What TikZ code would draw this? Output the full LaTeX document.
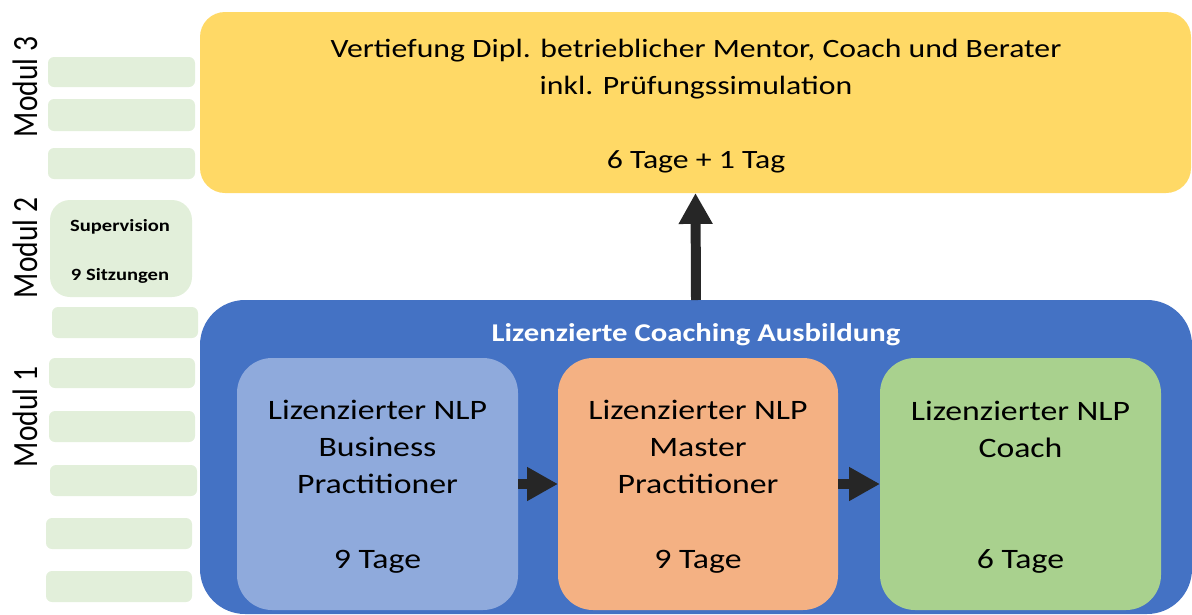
\documentclass[tikz,border=0pt]{standalone}
\usepackage{fontspec}
\setmainfont{Carlito}[FakeStretch=1.2]
\newfontfamily\modulfont{Carlito}
\usetikzlibrary{fit,arrows.meta}
\definecolor{gold}{HTML}{FFD966}
\definecolor{royal}{HTML}{4472C4}
\definecolor{sky}{HTML}{8FAADC}
\definecolor{peach}{HTML}{F4B183}
\definecolor{leaf}{HTML}{A9D18E}
\definecolor{mint}{HTML}{E2EFDA}
\definecolor{ink}{HTML}{262626}
\tikzset{
  box/.style={rectangle, inner sep=0pt, outer sep=0pt, draw=none},
  slot/.style={box, fill=mint, rounded corners=0.15cm},
  stage/.style={box, rounded corners=0.875cm},
  body/.style={text=black, align=center, anchor=base, font=\fontsize{20}{26.2}\selectfont},
  banner/.style={body, font=\fontsize{18.8}{26.2}\selectfont},
  title/.style={text=white, anchor=base, font=\bfseries\fontsize{18.2}{22}\selectfont},
  small/.style={text=black, anchor=base, font=\bfseries\fontsize{12.2}{15}\selectfont},
  modul/.style={rotate=90, anchor=base, font=\modulfont\fontsize{21}{25}\selectfont},
  fat/.style={draw=ink, line width=7.1pt, -{Triangle[length=22pt, width=22.7pt]}}
}

\begin{document}
\begin{tikzpicture}[x=0.025cm, y=-0.025cm]
  \useasboundingbox (0,0) rectangle (1192,614);

  % left column
  \foreach \xa/\ya/\xb/\yb [count=\i] in {48/57/195/87, 48/99/195/131, 48/148/195/179,
      52/307/198/338, 49/358/195/388, 49/411/195/442, 50/465/197/496,
      46/518/192/549, 46/571/192/602}
    \node[slot, fit={(\xa,\ya) (\xb,\yb)}] (s\i) {};
  \node[slot, rounded corners=0.5cm, fit={(50,200) (192,297)}] (sv) {};
  \node[small] (sv name) at (120,231) {Supervision};
  \node[small] (sv count) at (120,280) {9 Sitzungen};

  \node[modul] (m3) at (37,87) {\scalebox{1}[1.2]{Modul 3}};
  \node[modul] (m2) at (37,248) {\scalebox{1}[1.2]{Modul 2}};
  \node[modul] (m1) at (37,417) {\scalebox{1}[1.2]{Modul 1}};

  % Modul 3 (base = last line)
  \node[box, fill=gold, rounded corners=0.625cm, fit={(200,12) (1191,193)}] (vt) {};
  \node[banner] (vt name) at (696,94) {Vertiefung Dipl. betrieblicher Mentor, Coach und Berater\\inkl. Prüfungssimulation};
  \node[banner] (vt days) at (696,168) {6 Tage + 1 Tag};

  % Modul 1
  \node[box, fill=royal, rounded corners=1.125cm, fit={(200,300) (1192,614)}] (lca) {};
  \node[title] (lca name) at (696,341) {Lizenzierte Coaching Ausbildung};

  \node[stage, fill=sky, fit={(237,358) (518,610)}] (bp) {};
  \node[stage, fill=peach, fit={(558,358) (838,610)}] (mp) {};
  \node[stage, fill=leaf, fit={(880,358) (1161,610)}] (co) {};

  \node[body] (bp name) at (bp.center |- 0,493) {Lizenzierter NLP\\Business\\Practitioner};
  \node[body] (bp days) at (bp.center |- 0,568) {9 Tage};
  \node[body] (mp name) at (mp.center |- 0,493) {Lizenzierter NLP\\Master\\Practitioner};
  \node[body] (mp days) at (mp.center |- 0,568) {9 Tage};
  \node[body] (co name) at (co.center |- 0,457) {Lizenzierter NLP\\Coach};
  \node[body] (co days) at (co.center |- 0,568) {6 Tage};

  \draw[fat] (bp.east) -- (mp.west);
  \draw[fat] (mp.east) -- (co.west);
  \draw[fat] (lca.north) -- (vt.south);
\end{tikzpicture}
\end{document}
